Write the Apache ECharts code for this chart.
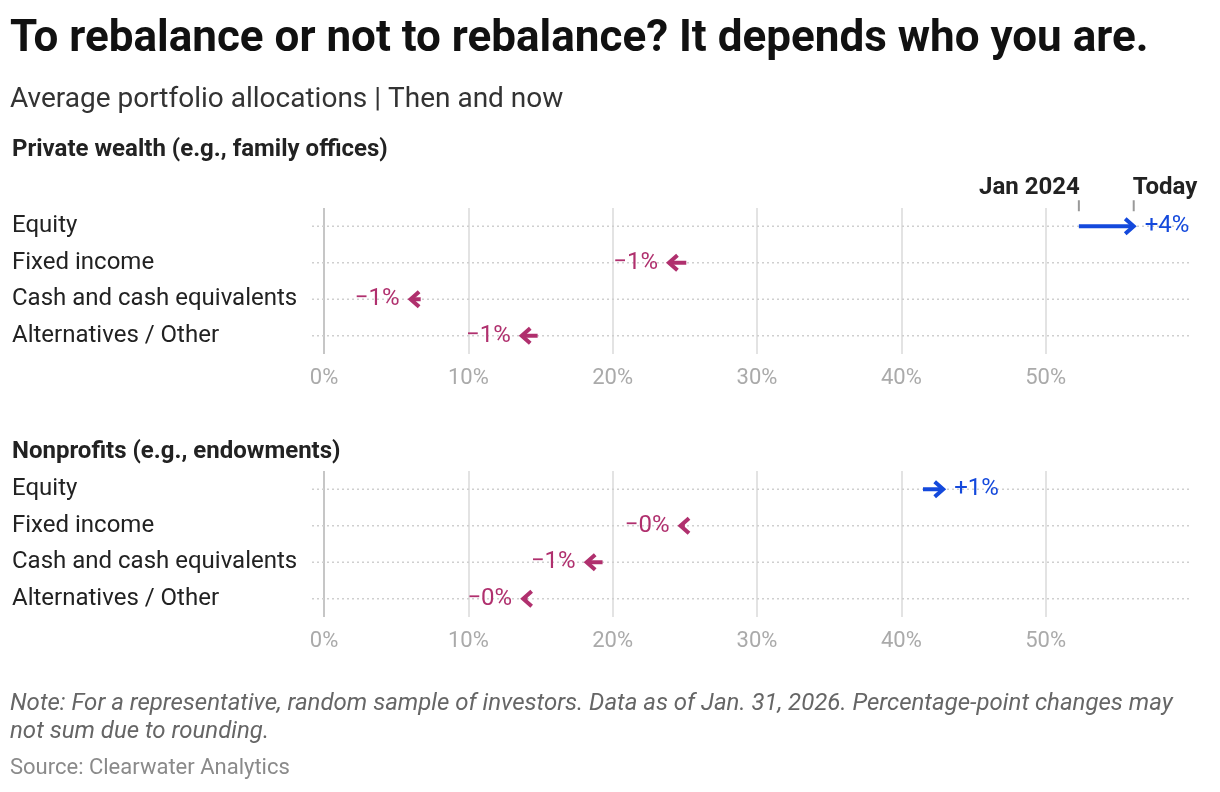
<!DOCTYPE html>
<html>
<head>
<meta charset="utf-8">
<script src="https://cdn.jsdelivr.net/npm/echarts@6/dist/echarts.min.js"></script>
<style>
html,body{margin:0;padding:0;background:#fff;}
#chart{width:1220px;height:792px;}
</style>
</head>
<body>
<div id="chart"></div>
<script>
// ---- data ----
const categories = ['Equity', 'Fixed income', 'Cash and cash equivalents', 'Alternatives / Other'];
const privateJan2024 = [52.3, 25.1, 6.7, 14.8];
const privateToday   = [56.1, 23.9, 6.0, 13.7];
const nonprofitJan2024 = [41.5, 25.0, 19.3, 14.1];
const nonprofitToday   = [42.9, 24.7, 18.2, 13.8];
const xTickValues = [0, 10, 20, 30, 40, 50];
const markerLabels = ['Jan 2024', 'Today'];
const panelTitles = ['Private wealth (e.g., family offices)', 'Nonprofits (e.g., endowments)'];

const BLUE = '#1449dc';
const PINK = '#b0306e';
const FONT = 'Roboto, "Noto Sans", sans-serif';

function fmtChange(d) {
  const r = Math.abs(Math.round(d));
  return (d >= 0 ? '+' : '\u2212') + r + '%';
}

function panelData(jan, today) {
  return categories.map((c, i) => [i, jan[i], today[i]]);
}

function makeRenderItem(withMarkers) {
  return function (params, api) {
    const cat = api.value(0);
    const s = api.value(1), e = api.value(2);
    const cs = params.coordSys;
    const p0 = api.coord([s, cat]);
    const p1 = api.coord([e, cat]);
    const zero = api.coord([0, cat]);
    const y = p0[1];
    const dir = e >= s ? 1 : -1;
    const color = dir > 0 ? BLUE : PINK;
    const children = [];
    // dotted row guide
    children.push({
      type: 'line', z2: 1,
      shape: { x1: zero[0] - 12, y1: y, x2: cs.x + cs.width, y2: y },
      style: { stroke: '#cfcfcf', lineWidth: 1.5, lineDash: [2, 3] }
    });
    // arrow shaft
    const tipX = p1[0];
    const shaftEnd = tipX - dir * 2;
    if ((shaftEnd - p0[0]) * dir > 0) {
      children.push({
        type: 'line', z2: 5,
        shape: { x1: p0[0], y1: y, x2: shaftEnd, y2: y },
        style: { stroke: color, lineWidth: 4, lineCap: 'butt' }
      });
    }
    // arrow head
    children.push({
      type: 'polyline', z2: 6,
      shape: { points: [[tipX - dir * 8.5, y - 7.5], [tipX, y], [tipX - dir * 8.5, y + 7.5]] },
      style: { stroke: color, lineWidth: 4, fill: null, lineJoin: 'miter', lineCap: 'butt' }
    });
    // change label
    children.push({
      type: 'text', z2: 7,
      x: tipX + dir * 11, y: y,
      style: {
        text: fmtChange(e - s), fill: color,
        font: '24px ' + FONT,
        align: dir > 0 ? 'left' : 'right', verticalAlign: 'middle'
      }
    });
    if (withMarkers && params.dataIndex === 0) {
      [[p0[0], markerLabels[0], 'right'], [p1[0], markerLabels[1], 'left']].forEach(function (m) {
        children.push({
          type: 'line', z2: 3,
          shape: { x1: m[0], y1: y - 26, x2: m[0], y2: y - 15 },
          style: { stroke: '#999', lineWidth: 2 }
        });
        children.push({
          type: 'text', z2: 3,
          x: m[0] + (m[2] === 'right' ? 1 : -1), y: y - 38,
          style: {
            text: m[1], fill: '#222', font: 'bold 24px ' + FONT,
            align: m[2], verticalAlign: 'middle'
          }
        });
      });
    }
    return { type: 'group', children: children };
  };
}

function xAxisFor(gridIndex) {
  return {
    type: 'value', gridIndex: gridIndex, min: 0, max: 60, interval: 10,
    axisLine: { show: false }, axisTick: { show: false },
    axisLabel: {
      margin: 13, color: '#aaaaaa', fontSize: 22, fontFamily: FONT,
      formatter: function (v) { return xTickValues.indexOf(v) >= 0 ? v + '%' : ''; }
    },
    splitLine: {
      show: true,
      lineStyle: { width: 2, color: ['#c6c6c6', '#e3e3e3', '#e3e3e3', '#e3e3e3', '#e3e3e3', '#e3e3e3', 'rgba(0,0,0,0)'] }
    }
  };
}
function yAxisFor(gridIndex) {
  return {
    type: 'category', gridIndex: gridIndex, data: categories, inverse: true,
    axisLine: { show: false }, axisTick: { show: false }, splitLine: { show: false },
    axisLabel: { align: 'left', margin: 312, color: '#222', fontSize: 24, fontFamily: FONT }
  };
}

const chart = echarts.init(document.getElementById('chart'), null, { renderer: 'canvas' });
chart.setOption({
  backgroundColor: '#fff',
  animation: false,
  textStyle: { fontFamily: FONT },
  grid: [
    { left: 324, right: 30, top: 208, height: 146 },
    { left: 324, right: 30, top: 471, height: 146 }
  ],
  xAxis: [xAxisFor(0), xAxisFor(1)],
  yAxis: [yAxisFor(0), yAxisFor(1)],
  series: [
    { type: 'custom', xAxisIndex: 0, yAxisIndex: 0, renderItem: makeRenderItem(true), data: panelData(privateJan2024, privateToday), encode: { x: [1, 2], y: 0 }, clip: false },
    { type: 'custom', xAxisIndex: 1, yAxisIndex: 1, renderItem: makeRenderItem(false), data: panelData(nonprofitJan2024, nonprofitToday), encode: { x: [1, 2], y: 0 }, clip: false }
  ],
  graphic: [
    { type: 'text', x: 10, y: 40, style: { text: 'To rebalance or not to rebalance? It depends who you are.', font: 'bold 44px ' + FONT, fill: '#111', verticalAlign: 'middle' } },
    { type: 'text', x: 10, y: 100, style: { text: 'Average portfolio allocations | Then and now', font: '28px ' + FONT, fill: '#333', verticalAlign: 'middle' } },
    { type: 'text', x: 12, y: 150, style: { text: panelTitles[0], font: 'bold 24px ' + FONT, fill: '#222', verticalAlign: 'middle' } },
    { type: 'text', x: 12, y: 452, style: { text: panelTitles[1], font: 'bold 24px ' + FONT, fill: '#222', verticalAlign: 'middle' } },
    { type: 'text', x: 10, y: 704, style: { text: 'Note: For a representative, random sample of investors. Data as of Jan. 31, 2026. Percentage-point changes may\nnot sum due to rounding.', font: 'italic 24px ' + FONT, fill: '#666', lineHeight: 28, verticalAlign: 'top', y: -14 } },
    { type: 'text', x: 10, y: 768, style: { text: 'Source: Clearwater Analytics', font: '22px ' + FONT, fill: '#8a8a8a', verticalAlign: 'middle' } }
  ]
});
</script>
</body>
</html>
